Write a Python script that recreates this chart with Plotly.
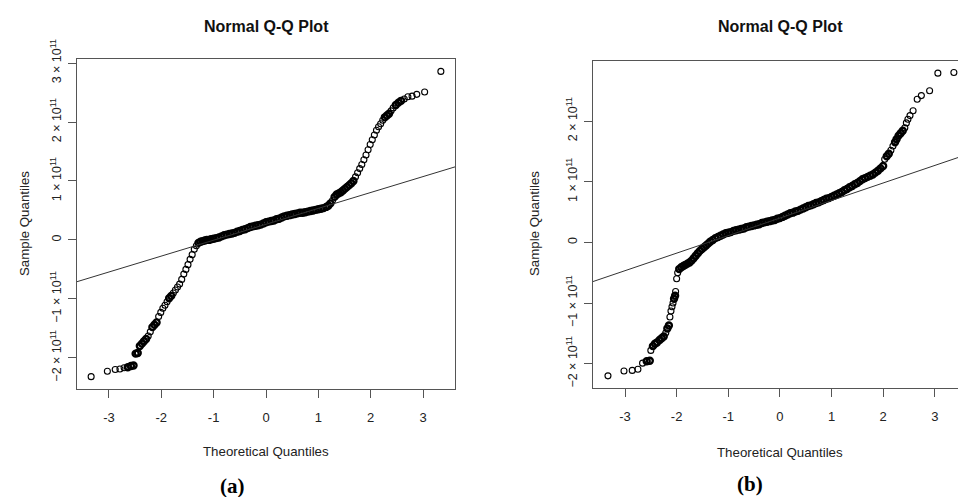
import math
import plotly.graph_objects as go

# ---------------- data (sample quantiles in units of 1e11) ----------------
SCALE = 1e11

theo_a = [-3.34, -3.03, -2.88, -2.79, -2.71, -2.64, -2.58, -2.53, -2.49, -2.45,
          -2.41, -2.37, -2.33, -2.29, -2.25, -2.21, -2.17, -2.13, -2.09, -2.05,
          -2.01, -1.97, -1.93, -1.89, -1.85, -1.81, -1.77, -1.73, -1.69, -1.65,
          -1.61, -1.57, -1.53, -1.49, -1.45, -1.41, -1.37, -1.33, -1.29, -1.25,
          -1.21, -1.17, -1.13, -1.09, -1.05, -1.00, -0.95, -0.90, -0.85, -0.80,
          -0.75, -0.70, -0.65, -0.60, -0.55, -0.50, -0.45, -0.40, -0.35, -0.30,
          -0.25, -0.20, -0.15, -0.10, -0.05, 0.00, 0.05, 0.10, 0.15, 0.20,
          0.25, 0.30, 0.35, 0.40, 0.45, 0.50, 0.55, 0.60, 0.65, 0.70,
          0.75, 0.80, 0.85, 0.90, 0.95, 1.00, 1.05, 1.10, 1.15, 1.19,
          1.23, 1.27, 1.31, 1.35, 1.39, 1.43, 1.47, 1.51, 1.55, 1.59,
          1.63, 1.67, 1.71, 1.75, 1.79, 1.83, 1.87, 1.91, 1.95, 1.99,
          2.03, 2.07, 2.11, 2.15, 2.19, 2.23, 2.27, 2.31, 2.35, 2.39,
          2.43, 2.48, 2.53, 2.58, 2.64, 2.71, 2.79, 2.88, 3.03, 3.34]
sample_a = [-2.32, -2.23, -2.20, -2.19, -2.17, -2.16, -2.14, -2.13, -1.93, -1.92,
            -1.80, -1.76, -1.72, -1.68, -1.63, -1.56, -1.48, -1.44, -1.40, -1.30,
            -1.23, -1.16, -1.11, -1.05, -0.99, -0.95, -0.90, -0.85, -0.80, -0.75,
            -0.67, -0.58, -0.50, -0.42, -0.33, -0.25, -0.16, -0.10, -0.05, -0.03,
            -0.02, -0.01, 0.00, 0.00, 0.01, 0.02, 0.03, 0.04, 0.06, 0.08,
            0.09, 0.10, 0.11, 0.12, 0.14, 0.15, 0.17, 0.18, 0.20, 0.22,
            0.23, 0.24, 0.25, 0.26, 0.28, 0.30, 0.31, 0.32, 0.33, 0.35,
            0.36, 0.38, 0.40, 0.41, 0.42, 0.43, 0.44, 0.45, 0.46, 0.46,
            0.47, 0.48, 0.49, 0.50, 0.51, 0.52, 0.53, 0.54, 0.56, 0.58,
            0.62, 0.67, 0.73, 0.77, 0.79, 0.81, 0.84, 0.87, 0.90, 0.93,
            0.96, 1.00, 1.07, 1.14, 1.21, 1.28, 1.36, 1.44, 1.53, 1.62,
            1.70, 1.78, 1.86, 1.92, 1.97, 2.03, 2.08, 2.11, 2.14, 2.19,
            2.24, 2.29, 2.33, 2.36, 2.39, 2.43, 2.44, 2.47, 2.51, 2.86]

theo_b = [-3.33, -3.02, -2.86, -2.75, -2.66, -2.58, -2.52, -2.50, -2.46, -2.42,
          -2.38, -2.33, -2.29, -2.25, -2.21, -2.18, -2.15, -2.13, -2.11, -2.09,
          -2.07, -2.05, -2.03, -2.02, -2.00, -1.98, -1.95, -1.91, -1.87, -1.83,
          -1.79, -1.75, -1.71, -1.67, -1.63, -1.59, -1.55, -1.51, -1.47, -1.43,
          -1.39, -1.35, -1.30, -1.25, -1.20, -1.15, -1.10, -1.05, -1.00, -0.95,
          -0.90, -0.85, -0.80, -0.75, -0.70, -0.65, -0.60, -0.55, -0.50, -0.45,
          -0.40, -0.35, -0.30, -0.25, -0.20, -0.15, -0.10, -0.05, 0.00, 0.05,
          0.10, 0.15, 0.20, 0.25, 0.30, 0.35, 0.40, 0.45, 0.50, 0.55,
          0.60, 0.65, 0.70, 0.75, 0.80, 0.85, 0.90, 0.95, 1.00, 1.05,
          1.10, 1.15, 1.20, 1.25, 1.30, 1.35, 1.40, 1.45, 1.50, 1.55,
          1.60, 1.65, 1.70, 1.75, 1.80, 1.85, 1.90, 1.95, 2.00, 2.03,
          2.07, 2.11, 2.15, 2.19, 2.23, 2.26, 2.30, 2.34, 2.38, 2.42,
          2.45, 2.48, 2.52, 2.58, 2.66, 2.74, 2.90, 3.06, 3.37]
sample_b = [-2.20, -2.12, -2.11, -2.09, -1.99, -1.96, -1.95, -1.78, -1.71, -1.67,
            -1.65, -1.61, -1.58, -1.55, -1.49, -1.42, -1.37, -1.23, -1.13, -1.06,
            -1.00, -0.93, -0.88, -0.81, -0.60, -0.50, -0.44, -0.41, -0.39, -0.37,
            -0.35, -0.33, -0.30, -0.26, -0.22, -0.18, -0.14, -0.11, -0.08, -0.05,
            -0.02, 0.01, 0.04, 0.07, 0.09, 0.11, 0.13, 0.15, 0.16, 0.17,
            0.19, 0.20, 0.21, 0.22, 0.23, 0.25, 0.26, 0.27, 0.28, 0.29,
            0.30, 0.32, 0.33, 0.34, 0.35, 0.36, 0.37, 0.39, 0.40, 0.42,
            0.44, 0.46, 0.48, 0.49, 0.51, 0.52, 0.54, 0.56, 0.58, 0.60,
            0.61, 0.63, 0.65, 0.66, 0.68, 0.70, 0.72, 0.73, 0.75, 0.77,
            0.79, 0.81, 0.83, 0.86, 0.88, 0.91, 0.93, 0.96, 0.98, 1.01,
            1.04, 1.06, 1.08, 1.10, 1.12, 1.15, 1.18, 1.22, 1.26, 1.37,
            1.42, 1.46, 1.52, 1.59, 1.65, 1.70, 1.76, 1.80, 1.84, 1.89,
            1.97, 2.03, 2.09, 2.17, 2.36, 2.42, 2.50, 2.79, 2.80]

# sample quartiles used by the reference line (qqline), units of 1e11
quartiles_a = [0.083, 0.447]
quartiles_b = [0.206, 0.596]
Z75 = 0.6745  # standard normal third quartile

x_ticks = [-3, -2, -1, 0, 1, 2, 3]
x_ticktext = ["-3", "-2", "-1", "0", "1", "2", "3"]
y_ticks_a = [-2, -1, 0, 1, 2, 3]
y_ticks_b = [-2, -1, 0, 1, 2]
y_ticktext = {-2: "\u22122 \u00d7 10<sup>11</sup>", -1: "\u22121 \u00d7 10<sup>11</sup>",
              0: "0", 1: "1 \u00d7 10<sup>11</sup>", 2: "2 \u00d7 10<sup>11</sup>",
              3: "3 \u00d7 10<sup>11</sup>"}

title_text = "Normal Q-Q Plot"
xlab = "Theoretical Quantiles"
ylab = "Sample Quantiles"
panel_labels = ["(a)", "(b)"]

# ---------------- figure ----------------
W, H = 958, 497
FONT = "Liberation Sans, Arial, sans-serif"
TXT = "#222222"
BOX = "#555555"

xr_a = [-3.61, 3.61]
yr_a = [-2.53, 3.07]
xr_b = [-3.62, 3.45]
yr_b = [-2.40, 2.99]


def ring_widths(xs, ys, px_x, px_y):
    # overlapping circles where points crowd together look like a solid band
    out = []
    n = len(xs)
    for i in range(n):
        d = 99.0
        for j in (i - 1, i + 1):
            if 0 <= j < n:
                d = min(d, math.hypot((xs[j] - xs[i]) * px_x, (ys[j] - ys[i]) * px_y))
        out.append(2.4 if d < 3.6 else 1.1)
    return out


fig = go.Figure()

for xs, ys, xa, ya, ppx, ppy in [(theo_a, sample_a, "x", "y", 52.3, 59.0),
                                 (theo_b, sample_b, "x2", "y2", 51.6, 60.5)]:
    fig.add_trace(go.Scatter(
        x=xs, y=[v * SCALE for v in ys], mode="markers",
        marker=dict(symbol="circle-open", size=6, color="black",
                    line=dict(width=ring_widths(xs, ys, ppx, ppy), color="black")),
        xaxis=xa, yaxis=ya, showlegend=False, cliponaxis=False, hoverinfo="skip"))


def qq_line(quart, xr):
    slope = (quart[1] - quart[0]) / (2 * Z75)
    inter = (quart[0] + quart[1]) / 2
    xs = [xr[0], xr[1]]
    return xs, [(inter + slope * x) * SCALE for x in xs]


for quart, xr, xa, ya in [(quartiles_a, xr_a, "x", "y"), (quartiles_b, xr_b, "x2", "y2")]:
    lx, ly = qq_line(quart, xr)
    fig.add_trace(go.Scatter(x=lx, y=ly, mode="lines", line=dict(color="#333333", width=1),
                             xaxis=xa, yaxis=ya, showlegend=False, hoverinfo="skip"))

xa_common = dict(tickmode="array", tickvals=x_ticks, ticktext=x_ticktext,
                 ticks="outside", ticklen=8, tickcolor=BOX, tickwidth=1, automargin=False,
                 showline=True, linecolor=BOX, linewidth=1, showgrid=False, zeroline=False,
                 tickfont=dict(family=FONT, size=13, color=TXT), ticklabelstandoff=8)


def ya_common(ticks):
    return dict(tickmode="array", tickvals=[t * SCALE for t in ticks],
                ticktext=[y_ticktext[t] for t in ticks], tickangle=-90, automargin=False,
                ticks="outside", ticklen=8, tickcolor=BOX, tickwidth=1,
                showline=True, linecolor=BOX, linewidth=1, showgrid=False, zeroline=False,
                tickfont=dict(family=FONT, size=12.5, color=TXT), ticklabelstandoff=2)


fig.update_layout(
    width=W, height=H, margin=dict(l=0, r=0, t=0, b=0, pad=0, autoexpand=False),
    paper_bgcolor="white", plot_bgcolor="white",
    xaxis=dict(domain=[77 / W, 455 / W], range=xr_a, mirror=True, anchor="y", **xa_common),
    yaxis=dict(domain=[1 - 389 / H, 1 - 59 / H], range=[v * SCALE for v in yr_a], mirror=True,
               anchor="x", **ya_common(y_ticks_a)),
    xaxis2=dict(domain=[593 / W, 1.0], range=xr_b, mirror=True, anchor="y2", **xa_common),
    yaxis2=dict(domain=[1 - 388 / H, 1 - 61 / H], range=[v * SCALE for v in yr_b], mirror=False,
                anchor="x2", **ya_common(y_ticks_b)),
)

ann = []
for cx, cy, xly, ycx, ycy, lab, lx_, ly_ in [(266, 26, 451, 24, 224, panel_labels[0], 232, 486),
                                             (780, 26, 452, 534, 224, panel_labels[1], 750, 484)]:
    ann.append(dict(text="<b>" + title_text + "</b>", x=cx / W, y=1 - cy / H, xref="paper", yref="paper",
                    showarrow=False, xanchor="center", yanchor="middle",
                    font=dict(family=FONT, size=16, color="#111111")))
    ann.append(dict(text=xlab, x=cx / W, y=1 - xly / H, xref="paper", yref="paper",
                    showarrow=False, xanchor="center", yanchor="middle",
                    font=dict(family=FONT, size=13.3, color=TXT)))
    ann.append(dict(text=ylab, x=ycx / W, y=1 - ycy / H, xref="paper", yref="paper", textangle=-90,
                    showarrow=False, xanchor="center", yanchor="middle",
                    font=dict(family=FONT, size=13.3, color=TXT)))
    ann.append(dict(text="<b>" + lab + "</b>", x=lx_ / W, y=1 - ly_ / H, xref="paper", yref="paper",
                    showarrow=False, xanchor="center", yanchor="middle",
                    font=dict(family="Liberation Serif, Times New Roman, serif", size=21, color="black")))
fig.update_layout(annotations=ann)

fig.write_html("out.html", config={"displayModeBar": False},
               post_script="document.body.style.margin='0';document.body.style.overflow='hidden';")
